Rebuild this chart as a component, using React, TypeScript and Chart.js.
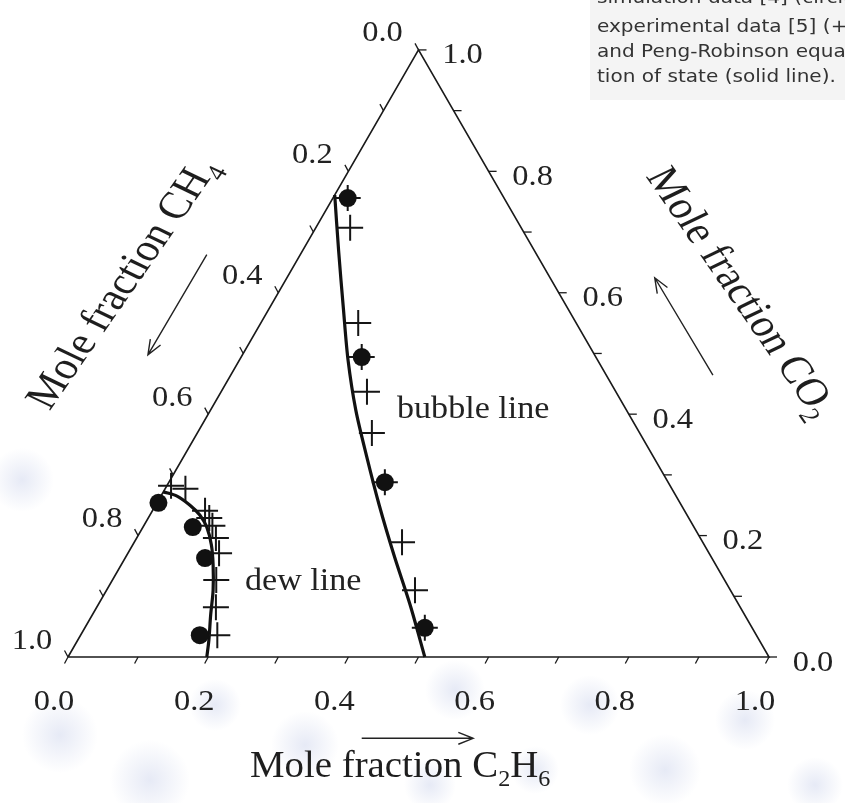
import React, { useEffect, useRef } from "react";
import { Chart, registerables } from "chart.js";

Chart.register(...registerables);

// ---------- data: mole fractions (CH4 = 1 - C2H6 - CO2) ----------
// Peng-Robinson bubble line (solid)
const bubbleLineC2H6 = [0.0, 0.051, 0.107, 0.155, 0.207, 0.259, 0.319, 0.381, 0.445, 0.509];
const bubbleLineCO2 = [0.761, 0.670, 0.572, 0.489, 0.407, 0.333, 0.250, 0.168, 0.086, 0.0];
// Peng-Robinson dew line (solid)
const dewLineC2H6 = [0.0, 0.023, 0.049, 0.071, 0.091, 0.112, 0.131, 0.152, 0.169, 0.187, 0.198];
const dewLineCO2 = [0.272, 0.265, 0.250, 0.234, 0.214, 0.185, 0.152, 0.110, 0.069, 0.028, 0.0];
// simulation data [4] (filled circles)
const simC2H6 = [0.021, 0.172, 0.308, 0.485, 0.002, 0.071, 0.114, 0.170];
const simCO2 = [0.756, 0.494, 0.288, 0.048, 0.254, 0.214, 0.163, 0.036];
// experimental data [5] (+)
const expC2H6 = [0.021, 0.049, 0.139, 0.172, 0.208, 0.249, 0.308, 0.382, 0.440, 0.485,
  0.006, 0.029, 0.075, 0.087, 0.098, 0.113, 0.130, 0.148, 0.170, 0.195];
const expCO2 = [0.756, 0.707, 0.550, 0.494, 0.437, 0.369, 0.288, 0.189, 0.110, 0.048,
  0.282, 0.277, 0.241, 0.229, 0.216, 0.196, 0.171, 0.127, 0.082, 0.036];
// axes
const minorTicks = [0, 0.1, 0.2, 0.3, 0.4, 0.5, 0.6, 0.7, 0.8, 0.9, 1.0];
const labeledTicks = [0, 0.2, 0.4, 0.6, 0.8, 1.0];
const tickLabels = ["0.0", "0.2", "0.4", "0.6", "0.8", "1.0"];
const curveLabels = ["bubble line", "dew line"];
const captionLines = [
  "simulation data [4] (circles),",
  "experimental data [5] (+",
  "and Peng-Robinson equa",
  "tion of state (solid line).",
];

// ---------- layout ----------
const W = 845;
const H = 803;
const SIDE = 701; // triangle side in px
const OX = 68; // pure CH4 corner
const OY = 657;
const SQ3 = Math.sqrt(3) / 2;
const SERIF = '"Liberation Serif", "Times New Roman", serif';

const tern = (b: number, c: number) => ({ x: b + c / 2, y: c * SQ3 });
const pts = (bs: number[], cs: number[]) => bs.map((b, i) => tern(b, cs[i]));

type Run = { t: string; sub?: boolean };

function drawRich(ctx: CanvasRenderingContext2D, runs: Run[], size: number, x: number, y: number,
  angle: number, sx: number, align: "left" | "center") {
  const subSize = Math.round(size * 0.62);
  const widths = runs.map((r) => {
    ctx.font = `${r.sub ? subSize : size}px ${SERIF}`;
    return ctx.measureText(r.t).width;
  });
  const total = widths.reduce((a, b) => a + b, 0);
  ctx.save();
  ctx.translate(x, y);
  ctx.scale(sx, 1);
  ctx.rotate(angle);
  ctx.textAlign = "left";
  ctx.textBaseline = "alphabetic";
  let cx = align === "center" ? -total / 2 : 0;
  const base = align === "center" ? size * 0.33 : 0;
  runs.forEach((r, i) => {
    ctx.font = `${r.sub ? subSize : size}px ${SERIF}`;
    ctx.fillText(r.t, cx, base + (r.sub ? size * 0.24 : 0));
    cx += widths[i];
  });
  ctx.restore();
}

function arrow(ctx: CanvasRenderingContext2D, x1: number, y1: number, x2: number, y2: number) {
  const a = Math.atan2(y2 - y1, x2 - x1);
  const L = 16;
  const s = 0.38;
  ctx.beginPath();
  ctx.moveTo(x1, y1);
  ctx.lineTo(x2, y2);
  ctx.moveTo(x2 - L * Math.cos(a - s), y2 - L * Math.sin(a - s));
  ctx.lineTo(x2, y2);
  ctx.lineTo(x2 - L * Math.cos(a + s), y2 - L * Math.sin(a + s));
  ctx.stroke();
}

const blobs: [number, number, number][] = [
  [22, 480, 32], [60, 735, 38], [150, 780, 40], [215, 705, 26], [305, 745, 34],
  [455, 690, 30], [430, 785, 26], [590, 705, 30], [665, 770, 36], [745, 720, 30],
  [815, 785, 28], [535, 770, 24],
];

const decor = {
  id: "decor",
  beforeDraw(chart: any) {
    const { ctx, width, height } = chart;
    ctx.save();
    ctx.fillStyle = "#ffffff";
    ctx.fillRect(0, 0, width, height);
    for (const [bx, by, br] of blobs) {
      const g = ctx.createRadialGradient(bx, by, 0, bx, by, br);
      g.addColorStop(0, "rgba(200,208,234,0.45)");
      g.addColorStop(1, "rgba(200,208,234,0)");
      ctx.fillStyle = g;
      ctx.beginPath();
      ctx.arc(bx, by, br, 0, Math.PI * 2);
      ctx.fill();
    }
    ctx.fillStyle = "#f4f4f4";
    ctx.fillRect(590, 0, width - 590, 100);
    ctx.restore();
  },
  afterDatasetsDraw(chart: any) {
    const { ctx } = chart;
    const sx = chart.scales.x;
    const sy = chart.scales.y;
    const U = (x: number, y: number): [number, number] => [sx.getPixelForValue(x), sy.getPixelForValue(y)];
    const P = (b: number, c: number) => {
      const p = tern(b, c);
      return U(p.x, p.y);
    };
    ctx.save();
    ctx.strokeStyle = "#1a1a1a";
    ctx.lineWidth = 1.3;
    // ticks
    for (const t of minorTicks) {
      let [X, Y] = P(t, 0);
      ctx.beginPath(); ctx.moveTo(X, Y); ctx.lineTo(X - 3.5, Y + 6.5); ctx.stroke();
      [X, Y] = P(1 - t, t);
      ctx.beginPath(); ctx.moveTo(X, Y); ctx.lineTo(X + 8, Y); ctx.stroke();
      [X, Y] = P(0, 1 - t);
      ctx.beginPath(); ctx.moveTo(X, Y); ctx.lineTo(X - 3.5, Y - 6.5); ctx.stroke();
    }
    // tick labels
    ctx.fillStyle = "#222";
    labeledTicks.forEach((t, i) => {
      const lab = [{ t: tickLabels[i] }];
      let [X, Y] = P(t, 0);
      drawRich(ctx, lab, 29, X - 14, Y + 43, 0, 1.12, "center");
      [X, Y] = P(1 - t, t);
      drawRich(ctx, lab, 29, X + 44, Y + 4, 0, 1.12, "center");
      [X, Y] = P(0, 1 - t);
      drawRich(ctx, lab, 29, X - 36, Y - 18, 0, 1.12, "center");
    });
    // axis titles
    ctx.fillStyle = "#1e1e1e";
    drawRich(ctx, [{ t: "Mole fraction C" }, { t: "2", sub: true }, { t: "H" }, { t: "6", sub: true }],
      37, 250, 777, 0, 1.05, "left");
    drawRich(ctx, [{ t: "Mole fraction CH" }, { t: "4", sub: true }], 38, 121, 283, -Math.PI / 3, 1.2, "center");
    drawRich(ctx, [{ t: "Mole fraction CO" }, { t: "2", sub: true }], 38, 743, 292, Math.PI / 3, 1.2, "center");
    // direction arrows
    ctx.lineWidth = 1.4;
    ctx.strokeStyle = "#222";
    arrow(ctx, ...U(0.198, 0.574), ...U(0.114, 0.431));
    arrow(ctx, ...U(0.920, 0.402), ...U(0.837, 0.541));
    arrow(ctx, ...U(0.419, -0.116), ...U(0.578, -0.116));
    // curve labels
    ctx.fillStyle = "#222";
    drawRich(ctx, [{ t: curveLabels[0] }], 31, 397, 418, 0, 1.1, "left");
    drawRich(ctx, [{ t: curveLabels[1] }], 31, 245, 590, 0, 1.1, "left");
    // caption fragment
    ctx.fillStyle = "#333333";
    ctx.font = '17px "DejaVu Sans", sans-serif';
    ctx.textAlign = "left";
    ctx.textBaseline = "alphabetic";
    captionLines.forEach((line, i) => {
      ctx.save();
      ctx.translate(597, (i === 0 ? 3 : 7) + i * 25);
      ctx.scale(1.18, 1);
      ctx.fillText(line, 0, 0);
      ctx.restore();
    });
    ctx.restore();
  },
};

export default function App() {
  const ref = useRef<HTMLCanvasElement | null>(null);

  useEffect(() => {
    const canvas = ref.current;
    if (!canvas) return;
    const triangle = [tern(0, 0), tern(1, 0), tern(0, 1), tern(0, 0)];
    const chart = new Chart(canvas, {
      type: "scatter",
      data: {
        datasets: [
          {
            label: "simulation data [4]",
            data: pts(simC2H6, simCO2),
            pointStyle: "circle",
            pointRadius: 9,
            backgroundColor: "#111",
            borderColor: "#111",
            borderWidth: 0,
          },
          {
            label: "experimental data [5]",
            data: pts(expC2H6, expCO2),
            pointStyle: "cross",
            pointRadius: 13,
            borderWidth: 2,
            borderColor: "#151515",
            backgroundColor: "#151515",
          },
          {
            label: "PR bubble line",
            data: pts(bubbleLineC2H6, bubbleLineCO2),
            showLine: true,
            pointRadius: 0,
            borderColor: "#111",
            borderWidth: 3.2,
            tension: 0.3,
          },
          {
            label: "PR dew line",
            data: pts(dewLineC2H6, dewLineCO2),
            showLine: true,
            pointRadius: 0,
            borderColor: "#111",
            borderWidth: 3.2,
            tension: 0.3,
          },
          {
            label: "triangle",
            data: triangle,
            showLine: true,
            pointRadius: 0,
            borderColor: "#1a1a1a",
            borderWidth: 1.6,
            tension: 0,
          },
        ],
      },
      options: {
        animation: false,
        responsive: false,
        devicePixelRatio: 1,
        events: [],
        layout: { padding: 0, autoPadding: false },
        plugins: { legend: { display: false }, tooltip: { enabled: false } },
        scales: {
          x: { type: "linear", display: false, min: -OX / SIDE, max: (W - OX) / SIDE },
          y: { type: "linear", display: false, min: -(H - OY) / SIDE, max: OY / SIDE },
        },
      },
      plugins: [decor],
    });
    return () => chart.destroy();
  }, []);

  return (
    <div style={{ position: "fixed", left: 0, top: 0, width: W, height: H, background: "#fff" }}>
      <canvas ref={ref} width={W} height={H} style={{ display: "block", width: W, height: H }} />
    </div>
  );
}
